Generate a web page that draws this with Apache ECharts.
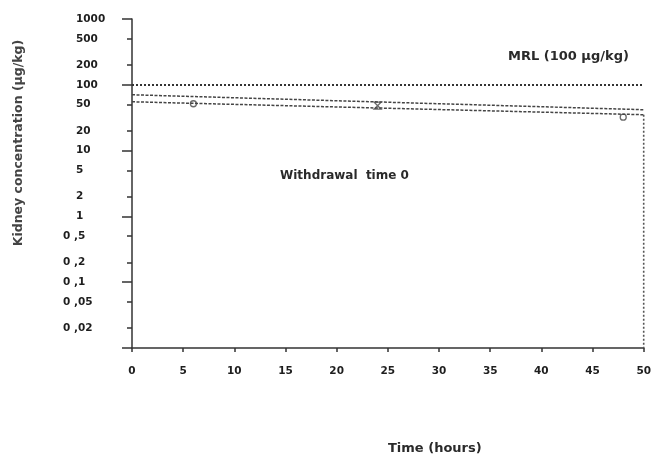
<!DOCTYPE html>
<html>
<head>
<meta charset="utf-8">
<script src="https://cdn.jsdelivr.net/npm/echarts@6/dist/echarts.min.js"></script>
<style>
  html, body { margin: 0; padding: 0; background: #fff; }
  #chart { width: 654px; height: 459px; }
</style>
</head>
<body>
<div id="chart"></div>
<script>
// time axis
const hourTicks = [0, 5, 10, 15, 20, 25, 30, 35, 40, 45, 50];

// log y axis
const yMajorTicks = [1000, 100, 10, 1, 0.1, 0.01];
const yMinorTicks = [500, 200, 50, 20, 5, 2, 0.5, 0.2, 0.05, 0.02];
const yLabelValues = [1000, 500, 200, 100, 50, 20, 10, 5, 2, 1, 0.5, 0.2, 0.1, 0.05, 0.02];
const yLabelTexts = ["1000", "500", "200", "100", "50", "20", "10", "5", "2", "1", "0 ,5", "0 ,2", "0 ,1", "0 ,05", "0 ,02"];

// depletion lines (straight on log scale)
const lineHours = [0, 50];
const upperConc = [70.6, 41.8];
const lowerConc = [55.2, 35.1];

// measured points
const circleHours = [6, 48];
const circleConc = [51.5, 32.2];
const crossHours = [24];
const crossConc = [48.1];

// MRL and withdrawal
const mrlValue = 100;
const withdrawalHours = [50, 50];
const withdrawalConc = [35.1, 0.01];

const pairs = (xs, ys) => xs.map((x, i) => [x, ys[i]]);

const axisColor = "#333";
const markColor = "#444";
const boldFont = "DejaVu Sans";

const chart = echarts.init(document.getElementById("chart"), null, { renderer: "canvas" });

chart.setOption({
  animation: false,
  backgroundColor: "#fff",
  grid: { left: 132, right: 8, top: 19, bottom: 111 },
  xAxis: {
    type: "value",
    min: 0,
    max: 50,
    interval: 5,
    axisLine: { onZero: false, lineStyle: { color: axisColor, width: 1.5 } },
    axisTick: { length: 4, lineStyle: { color: axisColor, width: 1.5 } },
    axisLabel: {
      margin: 18,
      color: "#1e1e1e",
      fontFamily: boldFont,
      fontWeight: "bold",
      fontSize: 10.5,
      formatter: (v) => String(v),
    },
    splitLine: { show: false },
  },
  yAxis: [
    {
      type: "log",
      logBase: 10,
      min: 0.01,
      max: 1000,
      position: "left",
      axisLine: { show: true, lineStyle: { color: axisColor, width: 1.5 } },
      axisTick: { customValues: yMajorTicks, length: 10, lineStyle: { color: axisColor, width: 1.5 } },
      axisLabel: {
        customValues: yLabelValues,
        align: "left",
        margin: 69,
        color: "#1e1e1e",
        fontFamily: boldFont,
        fontWeight: "bold",
        fontSize: 10.5,
        formatter: (v) => {
          const idx = yLabelValues.findIndex((t) => Math.abs(t - v) / t < 1e-6);
          const txt = idx >= 0 ? yLabelTexts[idx] : String(v);
          return v >= 1 ? "{i|" + txt + "}" : "{d|" + txt + "}";
        },
        rich: {
          i: { padding: [0, 0, 0, 13], fontFamily: boldFont, fontWeight: "bold", fontSize: 10.5, color: "#1e1e1e" },
          d: { fontFamily: boldFont, fontWeight: "bold", fontSize: 10.5, color: "#1e1e1e" },
        },
      },
      splitLine: { show: false },
    },
    {
      type: "log",
      logBase: 10,
      min: 0.01,
      max: 1000,
      position: "left",
      axisLine: { show: false },
      axisTick: { customValues: yMinorTicks, length: 5, lineStyle: { color: axisColor, width: 1.5 } },
      axisLabel: { show: false },
      splitLine: { show: false },
    },
  ],
  series: [
    {
      name: "Upper",
      type: "line",
      data: pairs(lineHours, upperConc),
      symbol: "none",
      lineStyle: { color: markColor, width: 1.5, type: [3, 1.5] },
      markLine: {
        silent: true,
        symbol: "none",
        label: { show: false },
        lineStyle: { color: "#333", width: 2, type: [2, 2] },
        data: [{ yAxis: mrlValue }],
      },
    },
    {
      name: "Lower",
      type: "line",
      data: pairs(lineHours, lowerConc),
      symbol: "none",
      lineStyle: { color: markColor, width: 1.5, type: [3, 1.5] },
    },
    {
      name: "Withdrawal",
      type: "line",
      data: pairs(withdrawalHours, withdrawalConc),
      symbol: "none",
      lineStyle: { color: "#555", width: 1.6, type: [2, 2] },
    },
    {
      name: "Samples",
      type: "scatter",
      data: pairs(circleHours, circleConc),
      symbol: "circle",
      symbolSize: 6,
      itemStyle: { color: "#fff", borderColor: markColor, borderWidth: 1.3 },
    },
    {
      name: "Samples 24h",
      type: "scatter",
      data: pairs(crossHours, crossConc),
      symbol: "path://M0,0L10,0L0,10L10,10Z",
      symbolSize: 7,
      itemStyle: { color: "#fff", borderColor: markColor, borderWidth: 1.3 },
    },
  ],
  graphic: [
    {
      type: "text",
      x: 508,
      y: 57,
      style: {
        text: "MRL (100 µg/kg)",
        fontFamily: boldFont, fontWeight: "bold", fontSize: 13,
        fill: "#2a2a2a",
        textAlign: "left", textVerticalAlign: "middle",
        align: "left", verticalAlign: "middle",
      },
    },
    {
      type: "text",
      x: 280,
      y: 176,
      style: {
        text: "Withdrawal  time 0",
        fontFamily: boldFont, fontWeight: "bold", fontSize: 12,
        fill: "#2a2a2a",
        textAlign: "left", textVerticalAlign: "middle",
        align: "left", verticalAlign: "middle",
      },
    },
    {
      type: "text",
      x: 388,
      y: 449,
      style: {
        text: "Time (hours)",
        fontFamily: boldFont, fontWeight: "bold", fontSize: 13,
        fill: "#2a2a2a",
        textAlign: "left", textVerticalAlign: "middle",
        align: "left", verticalAlign: "middle",
      },
    },
    {
      type: "text",
      x: 19,
      y: 143,
      rotation: Math.PI / 2,
      style: {
        text: "Kidney concentration (µg/kg)",
        fontFamily: boldFont, fontWeight: "bold", fontSize: 12.5,
        fill: "#444",
        textAlign: "center", textVerticalAlign: "middle",
        align: "center", verticalAlign: "middle",
      },
    },
  ],
});
</script>
</body>
</html>
